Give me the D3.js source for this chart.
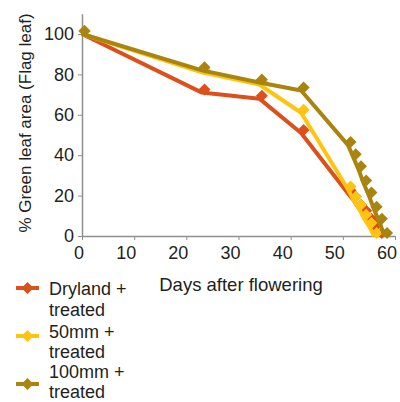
<!DOCTYPE html>
<html><head><meta charset="utf-8">
<script src="https://cdn.jsdelivr.net/npm/d3@7"></script>
<style>
body{margin:0;background:#fff;}
text{font-family:"Liberation Sans",Arial,sans-serif;fill:#231f20;}
</style></head>
<body><svg id="c" width="400" height="402"></svg>
<script>
const seriesNames = ["Dryland + treated","50mm + treated","100mm + treated"];
const seriesColors = ["#dc501c","#ffc410","#a9850f"];
const drylandDays = [0,23,34,42,51,52,53,54,55,56,57];
const drylandArea = [100,71,68,51,21,18,14,11,7,4,0];
const mm50Days = [0,23,34,42,51,52,53,54,55,56];
const mm50Area = [100,81,75,61,23,18,14,9,5,0];
const mm100Days = [0,23,34,42,51,52,53,54,55,56,57,58];
const mm100Area = [100,82,76,72,45,39,33,26,20,13,7,0];
const xTicks = [0,10,20,30,40,50,60];
const yTicks = [0,20,40,60,80,100];

const series = [
  {name:seriesNames[0], color:seriesColors[0], pts:drylandDays.map((d,i)=>[d,drylandArea[i]])},
  {name:seriesNames[1], color:seriesColors[1], pts:mm50Days.map((d,i)=>[d,mm50Area[i]])},
  {name:seriesNames[2], color:seriesColors[2], pts:mm100Days.map((d,i)=>[d,mm100Area[i]])}
];

const svg = d3.select("#c");
const x = d3.scaleLinear().domain([0,60]).range([82,395]);
const y = d3.scaleLinear().domain([0,110]).range([236,13.8]);
const axisColor = "#8f8f8f";

// axes
const gx = svg.append("g").attr("transform","translate(0,236)")
  .call(d3.axisBottom(x).tickValues(xTicks).tickSize(4).tickPadding(6).tickSizeOuter(0));
const gy = svg.append("g").attr("transform","translate(82,0)")
  .call(d3.axisLeft(y).tickValues(yTicks).tickSize(4).tickPadding(4).tickSizeOuter(0));
[gx,gy].forEach(g=>{
  g.select(".domain").attr("stroke",axisColor).attr("stroke-width",1.5);
  g.selectAll(".tick line").attr("stroke",axisColor).attr("stroke-width",1);
  g.selectAll(".tick text").style("font-family","'Liberation Sans',Arial,sans-serif")
    .style("font-size","18px").attr("fill","#231f20");
});
gx.selectAll(".tick text").attr("dy","0.71em").attr("text-anchor","end").attr("x",1.5);

// titles
svg.append("text").attr("x",241).attr("y",291).attr("text-anchor","middle")
  .style("font-size","18.5px").text("Days after flowering");
svg.append("text").attr("transform","translate(31,123) rotate(-90)").attr("text-anchor","middle")
  .style("font-size","17px").text("% Green leaf area (Flag leaf)");

const line = d3.line().x(d=>x(d[0])).y(d=>y(d[1]));
function diamondPath(){ return "M0,-6L6,0L0,6L-6,0Z"; }

series.forEach(s=>{
  const g = svg.append("g");
  g.append("path").datum(s.pts).attr("d",line).attr("fill","none")
    .attr("stroke",s.color).attr("stroke-width",4).attr("stroke-linejoin","round");
  g.selectAll("path.m").data(s.pts).join("path").attr("class","m")
    .attr("d",diamondPath())
    .attr("transform",d=>`translate(${x(d[0])+2.5},${y(d[1])-3})`)
    .attr("fill",s.color);
});

// legend
const legendY = [288,336,384];
const legendFirst = [7,2,-6];
const legendGap = [21,20,20];
series.forEach((s,i)=>{
  const g = svg.append("g").attr("transform",`translate(0,${legendY[i]})`);
  g.append("line").attr("x1",16).attr("x2",39).attr("y1",0).attr("y2",0)
    .attr("stroke",s.color).attr("stroke-width",4);
  g.append("path").attr("d",diamondPath()).attr("transform","translate(27.5,0)").attr("fill",s.color);
  const parts = s.name.split(" treated");
  const t = g.append("text").attr("x",49).style("font-size","18px");
  t.append("tspan").attr("x",49).attr("y",legendFirst[i]).text(parts[0].trim());
  t.append("tspan").attr("x",49).attr("y",legendFirst[i]+legendGap[i]).text("treated");
});
</script></body></html>
